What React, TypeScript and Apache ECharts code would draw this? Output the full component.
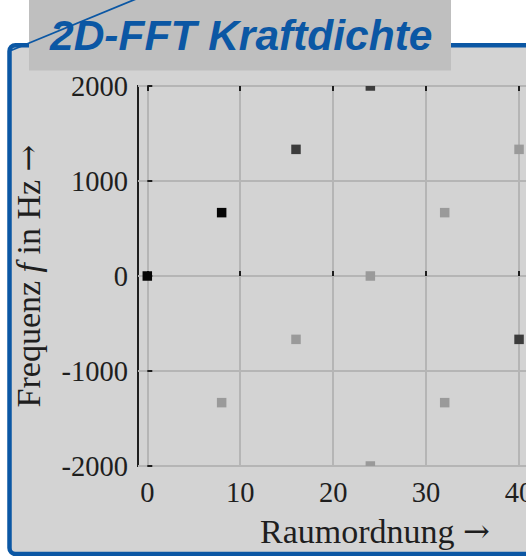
import React, { useEffect, useRef } from 'react';
import * as echarts from 'echarts';

const titleText = '2D-FFT Kraftdichte';
const xAxisName = 'Raumordnung {a|→}';
const yAxisName = 'Frequenz {i|f} in Hz {a|→}';
const xTicks = [0, 10, 20, 30, 40, 50];
const yTicks = [-2000, -1000, 0, 1000, 2000];
const pointX = [0, 8, 16, 24, 24, 32, 40, 16, 8, 32, 40, 24];
const pointY = [0, 667, 1333, 2000, 0, 667, 1333, -667, -1333, -1333, -667, -2000];
const pointShade = [0, 0, 1, 1, 2, 2, 2, 2, 2, 2, 1, 2];
const shadeColors = ['#050505', '#3c3c3c', '#9a9a9a'];

const BLUE = '#0b57a4';
const INK = '#1e1e1e';
const SERIF = '"Liberation Serif", "Times New Roman", serif';
const CHART_W = 700;
const CHART_H = 556;

export default function App() {
  const ref = useRef<HTMLDivElement>(null);
  useEffect(() => {
    if (!ref.current) return;
    const chart = echarts.init(ref.current, null, { renderer: 'svg' });
    const tickStyle = { inside: true, length: 5, lineStyle: { color: INK, width: 2 } };
    const nameRich = {
      i: { fontFamily: SERIF, fontSize: 34, fontStyle: 'italic', color: INK },
      a: { fontFamily: '"DejaVu Serif", serif', fontSize: 32, color: INK },
    };
    const option: any = {
      animation: false,
      backgroundColor: '#ffffff',
      graphic: [
        {
          type: 'rect',
          z: -10,
          shape: { x: 9.5, y: 45.2, width: 720, height: 508.8, r: 6 },
          style: { fill: '#d3d3d3', stroke: BLUE, lineWidth: 4.5 },
        },
        {
          type: 'rect',
          z: 10,
          shape: { x: 29, y: 0, width: 422, height: 70.5 },
          style: { fill: '#bfbfbf' },
        },
        {
          type: 'line',
          z: 11,
          shape: { x1: 11, y1: 50.5, x2: 136, y2: -1 },
          style: { stroke: BLUE, lineWidth: 1.8 },
        },
        {
          type: 'text',
          z: 12,
          x: 50,
          y: 35,
          style: {
            text: titleText,
            font: 'italic bold 42.5px "Liberation Sans", Arial, sans-serif',
            fill: BLUE,
            verticalAlign: 'middle',
            align: 'left',
          },
        },
      ],
      grid: {
        left: 138,
        top: 86,
        right: CHART_W - 612,
        bottom: 90,
        show: true,
        borderColor: INK,
        borderWidth: 2,
        backgroundColor: 'transparent',
      },
      xAxis: [
        {
          type: 'value',
          min: -1,
          max: 50,
          position: 'bottom',
          axisLine: { show: false },
          axisTick: { ...tickStyle, customValues: xTicks },
          axisLabel: { customValues: xTicks, fontFamily: SERIF, fontSize: 28.5, color: INK, margin: 12 },
          splitLine: { show: true, lineStyle: { color: '#b5b5b5', width: 2 } },
          name: xAxisName,
          nameLocation: 'middle',
          nameGap: 48,
          nameTextStyle: { fontFamily: SERIF, fontSize: 34, color: INK, rich: nameRich },
        },
        {
          type: 'value',
          min: -1,
          max: 50,
          position: 'top',
          axisLine: { show: false },
          axisTick: { ...tickStyle, customValues: xTicks },
          axisLabel: { show: false },
          splitLine: { show: false },
        },
      ],
      yAxis: {
        type: 'value',
        min: yTicks[0],
        max: yTicks[yTicks.length - 1],
        interval: 1000,
        axisLine: { show: false },
        axisTick: tickStyle,
        axisLabel: {
          fontFamily: SERIF,
          fontSize: 28.5,
          color: INK,
          margin: 10,
          formatter: (v: number) => String(v),
        },
        splitLine: { show: true, lineStyle: { color: '#b5b5b5', width: 2 } },
        name: yAxisName,
        nameLocation: 'middle',
        nameGap: 93,
        nameRotate: 90,
        nameTextStyle: { fontFamily: SERIF, fontSize: 34, color: INK, rich: nameRich },
      },
      series: [
        {
          type: 'custom',
          coordinateSystem: 'cartesian2d',
          xAxisIndex: 0,
          yAxisIndex: 0,
          z: 5,
          data: pointX.map((x, i) => [x, pointY[i], pointShade[i]]),
          renderItem: (params: any, api: any) => {
            const p = api.coord([api.value(0), api.value(1)]);
            const s = 9.5;
            const cs = params.coordSys;
            const rect = echarts.graphic.clipRectByRect(
              { x: p[0] - s / 2, y: p[1] - s / 2, width: s, height: s },
              { x: cs.x, y: cs.y, width: cs.width, height: cs.height }
            );
            if (!rect) return null;
            return {
              type: 'rect',
              shape: rect,
              style: { fill: shadeColors[api.value(2)] },
            };
          },
        },
      ],
    };
    chart.setOption(option);
    return () => chart.dispose();
  }, []);
  return (
    <div style={{ position: 'fixed', left: 0, top: 0, width: 526, height: 556, overflow: 'hidden' }}>
      <div ref={ref} style={{ width: CHART_W, height: CHART_H }} />
    </div>
  );
}
